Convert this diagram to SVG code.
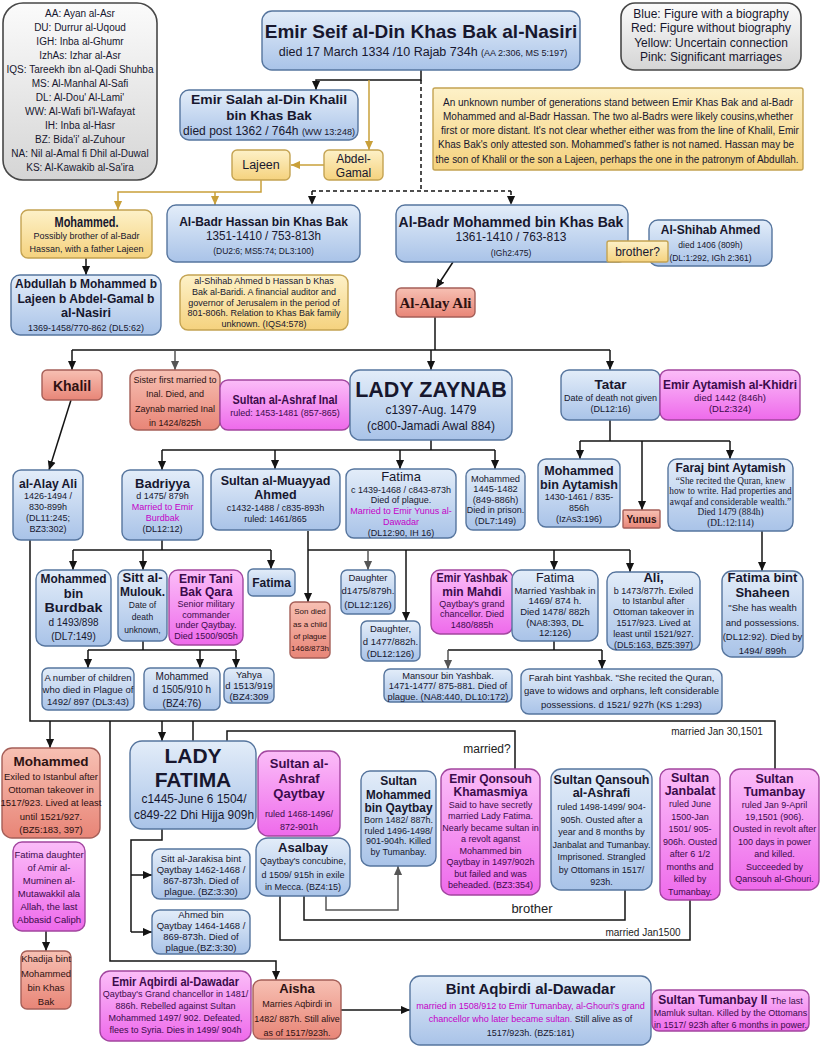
<svg xmlns="http://www.w3.org/2000/svg" width="821" height="1047" viewBox="0 0 821 1047">
<defs>
<linearGradient id="gb" x1="0" y1="0" x2="0" y2="1"><stop offset="0" stop-color="#e3edf9"/><stop offset="1" stop-color="#a9c3e8"/></linearGradient>
<linearGradient id="gr" x1="0" y1="0" x2="0" y2="1"><stop offset="0" stop-color="#f7c0b3"/><stop offset="1" stop-color="#e88577"/></linearGradient>
<linearGradient id="gy" x1="0" y1="0" x2="0" y2="1"><stop offset="0" stop-color="#fdf1c8"/><stop offset="1" stop-color="#f5d27e"/></linearGradient>
<linearGradient id="gp" x1="0" y1="0" x2="0" y2="1"><stop offset="0" stop-color="#fbbdf8"/><stop offset="1" stop-color="#ee6aeb"/></linearGradient>
<linearGradient id="gg" x1="0" y1="0" x2="0" y2="1"><stop offset="0" stop-color="#fbfbfb"/><stop offset="1" stop-color="#d5d5d5"/></linearGradient>
<marker id="a" viewBox="0 0 10 10" refX="10" refY="5" markerWidth="9" markerHeight="9" markerUnits="userSpaceOnUse" orient="auto"><path d="M0,0.5 L10,5 L0,9.5 z" fill="#141414"/></marker>
<marker id="ag" viewBox="0 0 10 10" refX="10" refY="5" markerWidth="9" markerHeight="9" markerUnits="userSpaceOnUse" orient="auto"><path d="M0,0.5 L10,5 L0,9.5 z" fill="#c9a03a"/></marker>
<marker id="ak" viewBox="0 0 10 10" refX="10" refY="5" markerWidth="9" markerHeight="9" markerUnits="userSpaceOnUse" orient="auto"><path d="M0,0.5 L10,5 L0,9.5 z" fill="#555"/></marker>
</defs>
<style>
text{font-family:"Liberation Sans",Arial,Helvetica,sans-serif;fill:#17172e;text-anchor:middle}
.h{font-weight:bold}
.s8{font-size:8px}.s85{font-size:8.5px}.s9{font-size:9px}.s93{font-size:9.3px}.s95{font-size:9.5px}.s10{font-size:10px}.s12{font-size:12px}.s125{font-size:12.5px}.s13{font-size:13px}.s135{font-size:13.5px}.s14{font-size:14px}
.nb{fill:url(#gb);stroke:#56759e;stroke-width:1.4}
.nr{fill:url(#gr);stroke:#a55f58;stroke-width:1.4}
.ny{fill:url(#gy);stroke:#c4a352;stroke-width:1.4}
.np{fill:url(#gp);stroke:#a2469f;stroke-width:1.4}
.ng{fill:url(#gg);stroke:#474747;stroke-width:1.6}
.pk text{fill:#3b0b4b}
.rd text{fill:#2e1212}
.m{fill:#c400c8}
.sf{font-family:"Liberation Serif","Times New Roman",serif}
#connectors path{fill:none;stroke:#141414;stroke-width:1.5}
#connectors .d{stroke-dasharray:4 3}
#connectors .au{stroke:#c9a03a}
#connectors .gr{stroke:#555}
#connectors text{fill:#222}
</style>
<rect width="821" height="1047" fill="#ffffff"/>

<g id="connectors">
<path d="M421,70 V80 H316 V90" marker-end="url(#a)"/>
<path class="d" d="M421,80 V191 M312,191 H511"/>
<path class="d" d="M312,191 V205" marker-end="url(#a)"/>
<path class="d" d="M511,191 V205" marker-end="url(#a)"/>
<path class="au" d="M369,80 V150" marker-end="url(#ag)"/>
<path class="au" d="M324,165 H291" marker-end="url(#ag)"/>
<path class="au" d="M261,180 V192 H118 V210" marker-end="url(#ag)"/>
<path class="au" d="M215,192 V205" marker-end="url(#ag)"/>
<path d="M86,258 V275" marker-end="url(#a)"/>
<path d="M453,262 L436,288" marker-end="url(#a)"/>
<path d="M435,317 V350 M72,350 H610"/>
<path d="M72,350 V370" marker-end="url(#a)"/>
<path class="gr" d="M175,350 V370" marker-end="url(#ak)"/>
<path d="M431,350 V370" marker-end="url(#a)"/>
<path d="M610,350 V370" marker-end="url(#a)"/>
<path d="M71,400 L49,470" marker-end="url(#a)"/>
<path d="M431,440 V450 M162,450 H495"/>
<path d="M162,450 V470" marker-end="url(#a)"/>
<path d="M275,450 V469" marker-end="url(#a)"/>
<path d="M400,450 V469" marker-end="url(#a)"/>
<path d="M495,450 V469" marker-end="url(#a)"/>
<path d="M610,420 V441 M580,441 H730"/>
<path d="M580,441 V459" marker-end="url(#a)"/>
<path d="M642,441 V510" marker-end="url(#a)"/>
<path d="M730,441 V459" marker-end="url(#a)"/>
<path d="M762,531 V571" marker-end="url(#a)"/>
<path d="M162,540 V550 M73,550 H271"/>
<path d="M73,550 V570" marker-end="url(#a)"/>
<path d="M143,550 V570" marker-end="url(#a)"/>
<path d="M271,550 V569" marker-end="url(#a)"/>
<path d="M143,641 V650 M88,650 H236"/>
<path d="M88,650 V668" marker-end="url(#a)"/>
<path d="M200,650 V668" marker-end="url(#a)"/>
<path d="M236,650 V668" marker-end="url(#a)"/>
<path d="M308,531 V602" marker-end="url(#a)"/>
<path d="M308,550 H630"/>
<path class="gr" d="M368,550 V570" marker-end="url(#ak)"/>
<path d="M406,550 V621" marker-end="url(#a)"/>
<path d="M554,550 V570" marker-end="url(#a)"/>
<path d="M630,550 V572" marker-end="url(#a)"/>
<path d="M554,641 V650 M448,650 H602"/>
<path class="gr" d="M448,650 V669" marker-end="url(#ak)"/>
<path d="M602,650 V669" marker-end="url(#a)"/>
<path d="M30,540 V721 H775 V769"/>
<path d="M50,721 V748" marker-end="url(#a)"/>
<path d="M162,721 V741" marker-end="url(#a)"/>
<path d="M193,721 V741"/>
<path d="M110,721 V961 H276 V980" marker-end="url(#a)"/>
<path d="M227,741 V731 H515 V769"/>
<path d="M162,829 V840 H131 V932"/>
<path d="M131,875 H152" marker-end="url(#a)"/>
<path d="M131,932 H152" marker-end="url(#a)"/>
<path class="gr" d="M326,896 V910 H398 V866" marker-end="url(#ak)"/>
<path d="M304,896 V920 H625 V890"/>
<path d="M280,896 V940 H690 V900"/>
<path d="M46,931 V951" marker-end="url(#a)"/>
<path d="M341,1010 H410" marker-end="url(#a)"/>
<text x="487" y="753" class="s12">married?</text>
<text x="717" y="735" class="s10">married Jan 30,1501</text>
<text x="532" y="913" class="s13">brother</text>
<text x="643" y="936" class="s10">married Jan1500</text>
</g>

<g id="n-legend-abbr">
<rect class="ng" x="3" y="3" width="154" height="177" rx="20"/>
<text x="80" y="17" class="s10">AA: Ayan al-Asr</text>
<text x="80" y="31" class="s10">DU: Durrur al-Uqoud</text>
<text x="80" y="45" class="s10">IGH: Inba al-Ghumr</text>
<text x="80" y="59" class="s10">IzhAs: Izhar al-Asr</text>
<text x="80" y="73" class="s10" textLength="147" lengthAdjust="spacingAndGlyphs">IQS: Tareekh ibn al-Qadi Shuhba</text>
<text x="80" y="87" class="s10">MS: Al-Manhal Al-Safi</text>
<text x="80" y="101" class="s10">DL: Al-Dou' Al-Lami'</text>
<text x="80" y="115" class="s10">WW: Al-Wafi bi'l-Wafayat</text>
<text x="80" y="129" class="s10">IH: Inba al-Hasr</text>
<text x="80" y="143" class="s10">BZ: Bida'i' al-Zuhour</text>
<text x="80" y="157" class="s10">NA: Nil al-Amal fi Dhil al-Duwal</text>
<text x="80" y="171" class="s10">KS: Al-Kawakib al-Sa'ira</text>
</g>

<g id="n-legend-colors">
<rect class="ng" x="621" y="3" width="180" height="67" rx="14"/>
<text x="711" y="18" class="s12">Blue: Figure with a biography</text>
<text x="711" y="32" class="s12">Red: Figure without biography</text>
<text x="711" y="47" class="s12">Yellow: Uncertain connection</text>
<text x="711" y="61" class="s12">Pink: Significant marriages</text>
</g>

<g id="n-seif">
<rect class="nb" x="262" y="11" width="318" height="59" rx="10"/>
<text x="421" y="38" class="h" font-size="19">Emir Seif al-Din Khas Bak al-Nasiri</text>
<text x="423" y="56" class="s125">died 17 March 1334 /10 Rajab 734h <tspan class="s9">(AA 2:306, MS 5:197)</tspan></text>
</g>

<g id="n-salah">
<rect class="nb" x="180" y="90" width="178" height="50" rx="9"/>
<text x="269" y="104" class="h s135" textLength="156" lengthAdjust="spacingAndGlyphs">Emir Salah al-Din Khalil</text>
<text x="269" y="119.5" class="h s135">bin Khas Bak</text>
<text x="269" y="134.5" class="s12">died post 1362 / 764h <tspan class="s9">(WW 13:248)</tspan></text>
</g>

<g id="n-note">
<rect class="ny" x="433" y="88" width="370" height="82" rx="2"/>
<text x="618" y="106" class="s10" textLength="350" lengthAdjust="spacingAndGlyphs">An unknown number of generations stand between Emir Khas Bak and al-Badr</text>
<text x="618" y="120" class="s10" textLength="350" lengthAdjust="spacingAndGlyphs">Mohammed and al-Badr Hassan. The two al-Badrs were likely cousins,whether</text>
<text x="620" y="134" class="s10" textLength="358" lengthAdjust="spacingAndGlyphs">first or more distant. It's not clear whether either was from the line of Khalil, Emir</text>
<text x="616" y="148" class="s10" textLength="356" lengthAdjust="spacingAndGlyphs">Khas Bak's only attested son. Mohammed's father is not named. Hassan may be</text>
<text x="617" y="163" class="s10" textLength="363" lengthAdjust="spacingAndGlyphs">the son of Khalil or the son a Lajeen, perhaps the one in the patronym of Abdullah.</text>
</g>

<g id="n-lajeen">
<rect class="ny" x="232" y="150" width="58" height="30" rx="5"/>
<text x="261" y="169" class="s125">Lajeen</text>
</g>

<g id="n-abdelgamal">
<rect class="ny" x="324" y="150" width="59" height="30" rx="5"/>
<text x="353.5" y="163" class="s12">Abdel-</text>
<text x="353.5" y="177" class="s12">Gamal</text>
</g>

<g id="n-mohammed-y">
<rect class="ny" x="21" y="210" width="131" height="48" rx="7"/>
<text x="86.5" y="227" class="h s14" textLength="64" lengthAdjust="spacingAndGlyphs">Mohammed.</text>
<text x="86.5" y="239" class="s9">Possibly brother of al-Badr</text>
<text x="86.5" y="252" class="s9">Hassan, with a father Lajeen</text>
</g>

<g id="n-hassan">
<rect class="nb" x="167" y="205" width="193" height="57" rx="9"/>
<text x="263.5" y="226" class="h s12">Al-Badr Hassan bin Khas Bak</text>
<text x="263.5" y="240" class="s12" textLength="115" lengthAdjust="spacingAndGlyphs">1351-1410 / 753-813h</text>
<text x="263.5" y="254" class="s85">(DU2:6; MS5:74; DL3:100)</text>
</g>

<g id="n-badr-mohammed">
<rect class="nb" x="396" y="205" width="232" height="57" rx="9"/>
<text x="511" y="227" class="h s14">Al-Badr Mohammed bin Khas Bak</text>
<text x="511" y="241" class="s12" textLength="111" lengthAdjust="spacingAndGlyphs">1361-1410 / 763-813</text>
<text x="511" y="256" class="s85">(IGh2:475)</text>
</g>

<g id="n-shihab">
<rect class="nb" x="649" y="220" width="123" height="46" rx="9"/>
<text x="710.5" y="234" class="h s12">Al-Shihab Ahmed</text>
<text x="710.5" y="248" class="s85">died 1406 (809h)</text>
<text x="710.5" y="261" class="s85">(DL:1:292, IGh 2:361)</text>
</g>

<g id="n-brother">
<rect class="ny" x="607" y="241" width="61" height="21" rx="2"/>
<text x="637.5" y="256" class="s12">brother?</text>
</g>

<g id="n-abdullah">
<rect class="nb" x="11" y="275" width="150" height="60" rx="9"/>
<text x="86" y="288" class="h s13" textLength="142" lengthAdjust="spacingAndGlyphs">Abdullah b Mohammed b</text>
<text x="86" y="302.6" class="h s13" textLength="137" lengthAdjust="spacingAndGlyphs">Lajeen b Abdel-Gamal b</text>
<text x="86" y="317.2" class="h s13" textLength="50" lengthAdjust="spacingAndGlyphs">al-Nasiri</text>
<text x="86" y="331" class="s9">1369-1458/770-862 (DL5:62)</text>
</g>

<g id="n-shihab-note">
<rect class="ny" x="180" y="275" width="168" height="55" rx="8"/>
<text x="264" y="284" class="s9">al-Shihab Ahmed b Hassan b Khas</text>
<text x="264" y="294.8" class="s9">Bak al-Baridi. A financial auditor and</text>
<text x="264" y="305.6" class="s9">governor of Jerusalem in the period of</text>
<text x="264" y="316.4" class="s9">801-806h.  Relation to Khas Bak family</text>
<text x="264" y="327.2" class="s9">unknown. (IQS4:578)</text>
</g>

<g id="n-alay-ali" class="rd">
<rect class="nr" x="396" y="288" width="79" height="29" rx="5"/>
<text x="435.5" y="308" class="h sf" font-size="15">Al-Alay Ali</text>
</g>

<g id="n-khalil" class="rd">
<rect class="nr" x="42" y="370" width="60" height="30" rx="5"/>
<text x="72" y="391" class="h s14">Khalil</text>
</g>

<g id="n-sister" class="rd">
<rect class="nr" x="130" y="370" width="90" height="60" rx="8"/>
<text x="175" y="383" class="s9">Sister first married to</text>
<text x="175" y="397" class="s9">Inal. Died, and</text>
<text x="175" y="412" class="s9">Zaynab married Inal</text>
<text x="175" y="426" class="s9">in 1424/825h</text>
</g>

<g id="n-inal" class="pk">
<rect class="np" x="220" y="380" width="130" height="50" rx="8"/>
<text x="285" y="404" class="h s125" textLength="105" lengthAdjust="spacingAndGlyphs">Sultan al-Ashraf Inal</text>
<text x="285" y="416" class="s9">ruled: 1453-1481 (857-865)</text>
</g>

<g id="n-zaynab">
<rect class="nb" x="350" y="370" width="162" height="70" rx="10"/>
<text x="431" y="397" class="h" font-size="21.5">LADY ZAYNAB</text>
<text x="431" y="414" class="s135" textLength="91" lengthAdjust="spacingAndGlyphs">c1397-Aug. 1479</text>
<text x="431" y="429.5" class="s135" textLength="128" lengthAdjust="spacingAndGlyphs">(c800-Jamadi Awal 884)</text>
</g>

<g id="n-tatar">
<rect class="nb" x="561" y="370" width="99" height="50" rx="8"/>
<text x="610.5" y="389" class="h s135">Tatar</text>
<text x="610.5" y="401" class="s9">Date of death not given</text>
<text x="610.5" y="412" class="s9">(DL12:16)</text>
</g>

<g id="n-aytamish" class="pk">
<rect class="np" x="660" y="370" width="140" height="50" rx="8"/>
<text x="730" y="389" class="h s135" textLength="134" lengthAdjust="spacingAndGlyphs">Emir Aytamish al-Khidri</text>
<text x="730" y="401" class="s95">died 1442 (846h)</text>
<text x="730" y="412" class="s95">(DL2:324)</text>
</g>

<g id="n-alay-ali-2">
<rect class="nb" x="13" y="470" width="70" height="70" rx="8"/>
<text x="48" y="488" class="h s13" textLength="58" lengthAdjust="spacingAndGlyphs">al-Alay Ali</text>
<text x="48" y="499" class="s9">1426-1494 /</text>
<text x="48" y="510" class="s9">830-899h</text>
<text x="48" y="521" class="s9">(DL11:245;</text>
<text x="48" y="532" class="s9">BZ3:302)</text>
</g>

<g id="n-badriyya">
<rect class="nb" x="122" y="470" width="81" height="70" rx="8"/>
<text x="162.5" y="488" class="h s13">Badriyya</text>
<text x="162.5" y="499" class="s9">d 1475/ 879h</text>
<text x="162.5" y="510" class="s9 m">Married to Emir</text>
<text x="162.5" y="521" class="s9 m">Burdbak</text>
<text x="162.5" y="532" class="s9">(DL12:12)</text>
</g>

<g id="n-muayyad">
<rect class="nb" x="211" y="469" width="129" height="61" rx="8"/>
<text x="275.5" y="485" class="h s125">Sultan al-Muayyad</text>
<text x="275.5" y="499" class="h s125">Ahmed</text>
<text x="275.5" y="511" class="s9">c1432-1488 / c835-893h</text>
<text x="275.5" y="522" class="s9">ruled: 1461/865</text>
</g>

<g id="n-fatima-z">
<rect class="nb" x="346" y="469" width="110" height="69" rx="8"/>
<text x="401" y="481" class="s13">Fatima</text>
<text x="401" y="492.5" class="s9">c 1439-1468 / c843-873h</text>
<text x="401" y="503.3" class="s9">Died of plague.</text>
<text x="401" y="514.1" class="s9 m">Married to Emir Yunus al-</text>
<text x="401" y="524.9" class="s9 m">Dawadar</text>
<text x="401" y="535.7" class="s9">(DL12:90, IH 16)</text>
</g>

<g id="n-mohammed-z">
<rect class="nb" x="466" y="469" width="59" height="61" rx="7"/>
<text x="495.5" y="481.5" class="s93">Mohammed</text>
<text x="495.5" y="492" class="s93">1445-1482</text>
<text x="495.5" y="502.5" class="s93">(849-886h)</text>
<text x="495.5" y="513" class="s9">Died in prison.</text>
<text x="495.5" y="523.5" class="s93">(DL7:149)</text>
</g>

<g id="n-mohammed-aytamish">
<rect class="nb" x="538" y="459" width="82" height="68" rx="8"/>
<text x="579" y="474.5" class="h s125">Mohammed</text>
<text x="579" y="488.5" class="h s125" textLength="78" lengthAdjust="spacingAndGlyphs">bin Aytamish</text>
<text x="579" y="500" class="s9">1430-1461 / 835-</text>
<text x="579" y="510.8" class="s9">856h</text>
<text x="579" y="521.6" class="s9">(IzAs3:196)</text>
</g>

<g id="n-yunus" class="rd">
<rect class="nr" x="623" y="510" width="37" height="18" rx="1"/>
<text x="641.5" y="523" class="h s10">Yunus</text>
</g>

<g id="n-faraj">
<rect class="nb" x="668" y="459" width="125" height="72" rx="9"/>
<text x="730.5" y="472" class="h s13" textLength="110" lengthAdjust="spacingAndGlyphs">Faraj bint Aytamish</text>
<text x="730.5" y="483.5" class="s93 sf">“She recited the Quran, knew</text>
<text x="730.5" y="494" class="s93 sf">how to write. Had properties and</text>
<text x="730.5" y="504.5" class="s93 sf">awqaf and considerable wealth.”</text>
<text x="730.5" y="515" class="s93 sf">Died 1479 (884h)</text>
<text x="730.5" y="525.5" class="s93 sf">(DL:12:114)</text>
</g>

<g id="n-mohammed-burdbak">
<rect class="nb" x="36" y="570" width="75" height="76" rx="9"/>
<text x="73.5" y="583" class="h s13" textLength="66" lengthAdjust="spacingAndGlyphs">Mohammed</text>
<text x="73.5" y="597.5" class="h s13">bin</text>
<text x="73.5" y="612" class="h s13" textLength="58" lengthAdjust="spacingAndGlyphs">Burdbak</text>
<text x="73.5" y="626" class="s10">d 1493/898</text>
<text x="73.5" y="640" class="s10">(DL7:149)</text>
</g>

<g id="n-sitt-mulouk">
<rect class="nb" x="118" y="570" width="49" height="71" rx="7"/>
<text x="142.5" y="582" class="h s12" textLength="40" lengthAdjust="spacingAndGlyphs">Sitt al-</text>
<text x="142.5" y="595.5" class="h s12" textLength="45" lengthAdjust="spacingAndGlyphs">Mulouk.</text>
<text x="142.5" y="607.5" class="s85">Date of</text>
<text x="142.5" y="620" class="s85">death</text>
<text x="142.5" y="632.5" class="s85">unknown,</text>
</g>

<g id="n-tanibak" class="pk">
<rect class="np" x="169" y="570" width="74" height="75" rx="9"/>
<text x="206" y="582.5" class="h s12">Emir Tani</text>
<text x="206" y="596" class="h s12">Bak Qara</text>
<text x="206" y="607" class="s9">Senior military</text>
<text x="206" y="617.5" class="s9">commander</text>
<text x="206" y="628" class="s9">under Qaytbay.</text>
<text x="206" y="638.5" class="s9">Died 1500/905h</text>
</g>

<g id="n-fatima-small">
<rect class="nb" x="248" y="569" width="47" height="27" rx="5"/>
<text x="271.5" y="587" class="h s12">Fatima</text>
</g>

<g id="n-son-died" class="rd">
<rect class="nr" x="290" y="602" width="40" height="56" rx="5"/>
<text x="310" y="614" class="s8">Son died</text>
<text x="310" y="627" class="s8">as a child</text>
<text x="310" y="639" class="s8">of plague</text>
<text x="310" y="651" class="s8">1468/873h</text>
</g>

<g id="n-daughter1">
<rect class="nb" x="341" y="570" width="54" height="44" rx="6"/>
<text x="368" y="581" class="s95">Daughter</text>
<text x="368" y="594" class="s95">d1475/879h.</text>
<text x="368" y="608" class="s95">(DL12:126)</text>
</g>

<g id="n-daughter2">
<rect class="nb" x="361" y="621" width="59" height="40" rx="6"/>
<text x="390.5" y="632" class="s95">Daughter,</text>
<text x="390.5" y="645" class="s95">d 1477/882h.</text>
<text x="390.5" y="657" class="s95">(DL12:126)</text>
</g>

<g id="n-yashbak" class="pk">
<rect class="np" x="431" y="570" width="82" height="64" rx="9"/>
<text x="472" y="582" class="h s12" textLength="71" lengthAdjust="spacingAndGlyphs">Emir Yashbak</text>
<text x="472" y="595.5" class="h s12">min Mahdi</text>
<text x="472" y="606.5" class="s9">Qaytbay's grand</text>
<text x="472" y="617" class="s9">chancellor. Died</text>
<text x="472" y="627.5" class="s9">1480/885h</text>
</g>

<g id="n-fatima-y">
<rect class="nb" x="512" y="570" width="86" height="71" rx="9"/>
<text x="555" y="581.5" class="s125">Fatima</text>
<text x="555" y="593.5" class="s95">Married Yashbak in</text>
<text x="555" y="604.2" class="s95">1469/ 874 h.</text>
<text x="555" y="614.9" class="s95">Died 1478/ 882h</text>
<text x="555" y="625.6" class="s95">(NA8:393, DL</text>
<text x="555" y="636.3" class="s95">12:126)</text>
</g>

<g id="n-ali">
<rect class="nb" x="607" y="572" width="93" height="78" rx="9"/>
<text x="653.5" y="582" class="h s13">Ali,</text>
<text x="653.5" y="593.5" class="s9">b 1473/877h.  Exiled</text>
<text x="653.5" y="604.3" class="s9">to Istanbul after</text>
<text x="653.5" y="615.1" class="s9">Ottoman takeover in</text>
<text x="653.5" y="625.9" class="s9">1517/923. Lived at</text>
<text x="653.5" y="636.7" class="s9">least until 1521/927.</text>
<text x="653.5" y="647.5" class="s9">(DL5:163, BZ5:397)</text>
</g>

<g id="n-fatima-shaheen">
<rect class="nb" x="722" y="571" width="81" height="86" rx="10"/>
<text x="762.5" y="582" class="h s13" textLength="70" lengthAdjust="spacingAndGlyphs">Fatima bint</text>
<text x="762.5" y="596.6" class="h s13">Shaheen</text>
<text x="762.5" y="611" class="s95">"She has wealth</text>
<text x="762.5" y="626" class="s95">and possessions.</text>
<text x="762.5" y="640" class="s95">(DL12:92). Died by</text>
<text x="762.5" y="654" class="s95">1494/ 899h</text>
</g>

<g id="n-children-plague">
<rect class="nb" x="42" y="668" width="92" height="42" rx="6"/>
<text x="88" y="681" class="s95">A number of children</text>
<text x="88" y="693" class="s95">who died in Plague of</text>
<text x="88" y="705" class="s95">1492/ 897 (DL3:43)</text>
</g>

<g id="n-mohammed-1505">
<rect class="nb" x="144" y="668" width="76" height="42" rx="6"/>
<text x="182" y="680" class="s10">Mohammed</text>
<text x="182" y="693" class="s10">d 1505/910 h</text>
<text x="182" y="707" class="s10">(BZ4:76)</text>
</g>

<g id="n-yahya">
<rect class="nb" x="224" y="668" width="50" height="35" rx="6"/>
<text x="249" y="678" class="s95">Yahya</text>
<text x="249" y="689" class="s95">d 1513/919</text>
<text x="249" y="700" class="s95">(BZ4:309</text>
</g>

<g id="n-mansour">
<rect class="nb" x="384" y="669" width="128" height="33" rx="6"/>
<text x="448" y="678.5" class="s93">Mansour bin Yashbak.</text>
<text x="448" y="689" class="s93">1471-1477/ 875-881. Died of</text>
<text x="448" y="699.5" class="s93">plague.  (NA8:440, DL10:172)</text>
</g>

<g id="n-farah">
<rect class="nb" x="521" y="669" width="201" height="45" rx="8"/>
<text x="621.5" y="681" class="s95">Farah bint Yashbak. "She recited the Quran,</text>
<text x="621.5" y="694" class="s95">gave to widows and orphans, left considerable</text>
<text x="621.5" y="708" class="s95">possessions. d 1521/ 927h (KS 1:293)</text>
</g>

<g id="n-mohammed-r" class="rd">
<rect class="nr" x="2" y="748" width="98" height="90" rx="10"/>
<text x="51" y="766" class="h s135">Mohammed</text>
<text x="51" y="780" class="s95">Exiled to Istanbul after</text>
<text x="51" y="793" class="s95">Ottoman takeover in</text>
<text x="51" y="806" class="s95">1517/923. Lived at least</text>
<text x="51" y="820" class="s95">until 1521/927.</text>
<text x="51" y="833" class="s95">(BZ5:183, 397)</text>
</g>

<g id="n-lady-fatima">
<rect class="nb" x="130" y="741" width="126" height="88" rx="12"/>
<text x="193" y="763" class="h" font-size="21">LADY</text>
<text x="193" y="786.5" class="h" font-size="21">FATIMA</text>
<text x="194" y="803" class="s13" textLength="105" lengthAdjust="spacingAndGlyphs">c1445-June 6 1504/</text>
<text x="194" y="819" class="s13" textLength="120" lengthAdjust="spacingAndGlyphs">c849-22 Dhi Hijja 909h</text>
</g>

<g id="n-qaytbay" class="pk">
<rect class="np" x="258" y="751" width="82" height="85" rx="10"/>
<text x="299" y="768" class="h s13">Sultan al-</text>
<text x="299" y="783" class="h s13">Ashraf</text>
<text x="299" y="798" class="h s13">Qaytbay</text>
<text x="299" y="817" class="s9">ruled 1468-1496/</text>
<text x="299" y="830" class="s9">872-901h</text>
</g>

<g id="n-mohammed-qaytbay">
<rect class="nb" x="361" y="771" width="75" height="95" rx="9"/>
<text x="398.5" y="785" class="h s12">Sultan</text>
<text x="398.5" y="798.5" class="h s12" textLength="65" lengthAdjust="spacingAndGlyphs">Mohammed</text>
<text x="398.5" y="812" class="h s12" textLength="68" lengthAdjust="spacingAndGlyphs">bin Qaytbay</text>
<text x="398.5" y="823" class="s9">Born 1482/ 887h.</text>
<text x="398.5" y="833.5" class="s9">ruled 1496-1498/</text>
<text x="398.5" y="844" class="s9">901-904h. Killed</text>
<text x="398.5" y="854.5" class="s9">by Tumanbay.</text>
</g>

<g id="n-qonsouh" class="pk">
<rect class="np" x="441" y="769" width="99" height="126" rx="10"/>
<text x="490.5" y="783" class="h s12">Emir Qonsouh</text>
<text x="490.5" y="796" class="h s12">Khamasmiya</text>
<text x="490.5" y="807.5" class="s9">Said to have secretly</text>
<text x="490.5" y="819" class="s9">married Lady Fatima.</text>
<text x="490.5" y="830.5" class="s9">Nearly became sultan in</text>
<text x="490.5" y="842" class="s9">a revolt aganst</text>
<text x="490.5" y="853.5" class="s9">Mohammed bin</text>
<text x="490.5" y="865" class="s9">Qaytbay in 1497/902h</text>
<text x="490.5" y="876.5" class="s9">but failed and was</text>
<text x="490.5" y="888" class="s9">beheaded. (BZ3:354)</text>
</g>

<g id="n-qansouh">
<rect class="nb" x="551" y="769" width="101" height="121" rx="10"/>
<text x="601.5" y="784" class="h s125">Sultan Qansouh</text>
<text x="601.5" y="797" class="h s125">al-Ashrafi</text>
<text x="601.5" y="810" class="s9">ruled 1498-1499/ 904-</text>
<text x="601.5" y="822.5" class="s9">905h. Ousted after a</text>
<text x="601.5" y="835" class="s9">year and 8 months by</text>
<text x="601.5" y="847.5" class="s9">Janbalat and Tumanbay.</text>
<text x="601.5" y="860" class="s9">Imprisoned. Strangled</text>
<text x="601.5" y="872.5" class="s9">by Ottomans in 1517/</text>
<text x="601.5" y="885" class="s9">923h.</text>
</g>

<g id="n-janbalat" class="pk">
<rect class="np" x="660" y="769" width="60" height="131" rx="9"/>
<text x="690" y="782" class="h s125">Sultan</text>
<text x="690" y="795" class="h s125">Janbalat</text>
<text x="690" y="807" class="s9">ruled June</text>
<text x="690" y="819.5" class="s9">1500-Jan</text>
<text x="690" y="832" class="s9">1501/ 905-</text>
<text x="690" y="844.5" class="s9">906h. Ousted</text>
<text x="690" y="857" class="s9">after 6 1/2</text>
<text x="690" y="869.5" class="s9">months and</text>
<text x="690" y="882" class="s9">killed by</text>
<text x="690" y="894.5" class="s9">Tumanbay.</text>
</g>

<g id="n-tumanbay" class="pk">
<rect class="np" x="730" y="769" width="89" height="121" rx="10"/>
<text x="774.5" y="783" class="h s125">Sultan</text>
<text x="774.5" y="796" class="h s125">Tumanbay</text>
<text x="774.5" y="808" class="s9">ruled Jan 9-April</text>
<text x="774.5" y="820" class="s9">19,1501 (906).</text>
<text x="774.5" y="832" class="s9">Ousted in revolt after</text>
<text x="774.5" y="844.5" class="s9">100 days in power</text>
<text x="774.5" y="857" class="s9">and killed.</text>
<text x="774.5" y="869.5" class="s9">Succeeded by</text>
<text x="774.5" y="882" class="s9">Qansouh al-Ghouri.</text>
</g>

<g id="n-fatima-caliph" class="pk">
<rect class="np" x="13" y="842" width="72" height="89" rx="9"/>
<text x="49" y="858" class="s95">Fatima daughter</text>
<text x="49" y="871" class="s95">of Amir al-</text>
<text x="49" y="884" class="s95">Muminen al-</text>
<text x="49" y="897" class="s95">Mutawakkil ala</text>
<text x="49" y="910" class="s95">Allah, the last</text>
<text x="49" y="923" class="s95">Abbasid Caliph</text>
</g>

<g id="n-khadija" class="rd">
<rect class="nr" x="21" y="951" width="50" height="58" rx="6"/>
<text x="46" y="962" class="s95">Khadija bint</text>
<text x="46" y="977" class="s95">Mohammed</text>
<text x="46" y="991" class="s95">bin Khas</text>
<text x="46" y="1005" class="s95">Bak</text>
</g>

<g id="n-jarakisa">
<rect class="nb" x="152" y="849" width="98" height="50" rx="8"/>
<text x="201" y="862" class="s95">Sitt al-Jarakisa bint</text>
<text x="201" y="873" class="s95">Qaytbay 1462-1468 /</text>
<text x="201" y="884" class="s95">867-873h. Died of</text>
<text x="201" y="895" class="s95">plague. (BZ:3:30)</text>
</g>

<g id="n-ahmed-qaytbay">
<rect class="nb" x="152" y="910" width="98" height="44" rx="8"/>
<text x="201" y="918" class="s95">Ahmed bin</text>
<text x="201" y="929" class="s95">Qaytbay 1464-1468 /</text>
<text x="201" y="940" class="s95">869-873h. Died of</text>
<text x="201" y="951" class="s95">plague.(BZ:3:30)</text>
</g>

<g id="n-asalbay">
<rect class="nb" x="256" y="838" width="94" height="58" rx="12"/>
<text x="303" y="852" class="h s13">Asalbay</text>
<text x="303" y="864" class="s9">Qaytbay's concubine,</text>
<text x="303" y="878" class="s9">d 1509/ 915h in exile</text>
<text x="303" y="890" class="s9">in Mecca. (BZ4:15)</text>
</g>

<g id="n-aqbirdi" class="pk">
<rect class="np" x="100" y="971" width="151" height="70" rx="10"/>
<text x="175.5" y="986" class="h s125" textLength="127" lengthAdjust="spacingAndGlyphs">Emir Aqbirdi al-Dawadar</text>
<text x="175.5" y="997" class="s9">Qaytbay's Grand chancellor in 1481/</text>
<text x="175.5" y="1009" class="s9">886h. Rebelled against Sultan</text>
<text x="175.5" y="1021" class="s9">Mohammed 1497/ 902. Defeated,</text>
<text x="175.5" y="1033" class="s9">flees to Syria. Dies in 1499/ 904h</text>
</g>

<g id="n-aisha" class="rd">
<rect class="nr" x="253" y="980" width="88" height="59" rx="8"/>
<text x="297" y="993" class="h s13">Aisha</text>
<text x="297" y="1007" class="s9">Marries Aqbirdi in</text>
<text x="297" y="1022" class="s9">1482/ 887h. Still alive</text>
<text x="297" y="1036" class="s9">as of 1517/923h.</text>
</g>

<g id="n-bint-aqbirdi">
<rect class="nb" x="410" y="976" width="241" height="69" rx="10"/>
<text x="530.5" y="994" class="h" font-size="15">Bint Aqbirdi al-Dawadar</text>
<text x="530.5" y="1009" class="s9 m">married in 1508/912 to Emir Tumanbay, al-Ghouri's grand</text>
<text x="530.5" y="1022" class="s9"><tspan class="m">chancellor who later became sultan.</tspan> Still alive as of</text>
<text x="530.5" y="1036" class="s9">1517/923h. (BZ5:181)</text>
</g>

<g id="n-tumanbay2" class="pk">
<rect class="np" x="652" y="990" width="157" height="41" rx="7"/>
<text x="730.5" y="1004" class="h s12">Sultan Tumanbay II <tspan class="s9" font-weight="normal">The last</tspan></text>
<text x="730.5" y="1016" class="s9">Mamluk sultan. Killed by the Ottomans</text>
<text x="730.5" y="1028" class="s9">in 1517/ 923h after 6 months in power.</text>
</g>
</svg>
